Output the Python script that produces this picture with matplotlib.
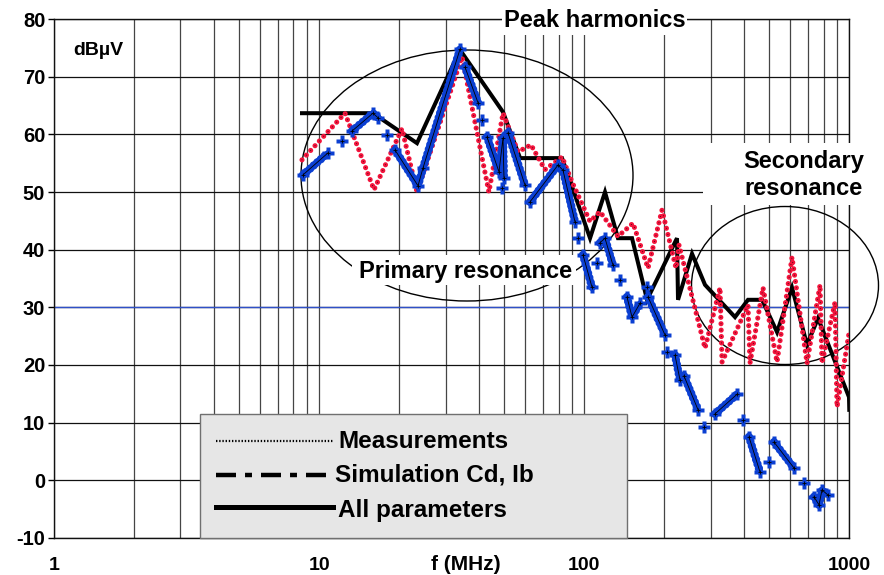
import numpy as np
import matplotlib
matplotlib.use('Agg')
import matplotlib.pyplot as plt
from matplotlib.patches import Ellipse, Rectangle
from matplotlib.lines import Line2D
from matplotlib.ticker import LogLocator, NullFormatter

plt.rcParams['font.family'] = ['Liberation Sans', 'DejaVu Sans']
plt.rcParams['font.weight'] = 'bold'
plt.rcParams['lines.scale_dashes'] = False

# ---------------- data ----------------
x_ticks = [1, 10, 100, 1000]
x_tick_labels = ['1', '10', '100', '1000']
y_ticks = [-10, 0, 10, 20, 30, 40, 50, 60, 70, 80]
y_tick_labels = ['-10', '0', '10', '20', '30', '40', '50', '60', '70', '80']

# Measurements (red dotted)
meas_f = [8.62, 12.52, 16.11, 20.54, 23.4, 34.6, 43.7, 49.4, 56.3, 63.0,
          71.1, 82.5, 89.9, 105.2, 114.7, 134.1, 152.8, 174.1, 196.6, 222.0,
          227.9, 285.6, 325.4, 331.1, 414.8, 422.1, 472.6, 533.8, 608.0, 692.6,
          775.6, 788.9, 883.4, 898.8, 997.5]
meas_db = [55.6, 63.7, 50.4, 61.0, 50.0, 73.5, 50.0, 63.7, 57.0, 58.2,
           53.9, 56.1, 51.8, 44.9, 46.6, 42.3, 44.6, 36.8, 46.9, 36.8,
           40.8, 22.9, 33.4, 20.5, 30.4, 20.3, 33.4, 20.5, 38.7, 20.3,
           33.9, 20.3, 30.9, 12.7, 25.5]

# Simulation Cd, Ib (blue, broken segments separated by None)
sim_f = [8.70, 10.80, None,
         12.20, None,
         13.31, 15.97, 16.68, None,
         18.04, None,
         19.34, 23.61, 24.66, 34.0, None,
         35.51, 39.77, None,
         41.17, None,
         42.99, 47.71, 49.39, 49.83, None,
         48.97, None,
         51.59, 59.80, None,
         62.46, 79.63, 83.18, 92.34, None,
         94.76, None,
         98.97, 106.99, None,
         111.7, None,
         114.7, 119.8, 128.4, None,
         136.5, None,
         145.0, 151.5, 162.4, None,
         172.6, None,
         174.1, 201.7, None,
         205.3, None,
         220.0, 229.8, None,
         237.9, 268.8, None,
         283.1, None,
         311.5, 377.1, None,
         397.2, None,
         418.4, 460.4, None,
         497.9, None,
         520.0, 618.6, None,
         674.8, None,
         735.8, 768.6, 788.9, 831.0]
sim_db = [53.0, 56.8, None,
          58.9, None,
          60.6, 63.7, 62.9, None,
          59.9, None,
          57.3, 51.1, 54.2, 74.8, None,
          71.7, 65.5, None,
          62.5, None,
          59.6, 53.5, 59.4, 52.4, None,
          50.7, None,
          60.3, 51.2, None,
          48.3, 54.7, 53.8, 44.8, None,
          42.0, None,
          39.1, 33.5, None,
          37.7, None,
          41.2, 42.0, 37.3, None,
          34.7, None,
          31.8, 28.3, 30.7, None,
          33.5, None,
          31.8, 25.2, None,
          22.2, None,
          21.7, 17.4, None,
          18.1, 12.2, None,
          9.2, None,
          11.5, 14.9, None,
          10.4, None,
          7.5, 1.4, None,
          3.1, None,
          6.6, 2.1, None,
          -0.5, None,
          -2.9, -4.3, -1.7, -2.6]

# All parameters (black solid)
allp_f = [8.62, 15.97, 23.4, 34.0, 49.4, 57.3, 82.5, 105.2, 119.8, 134.1,
          151.5, 172.6, 223.9, 225.9, 255.1, 285.6, 370.6, 414.8, 468.6, 533.8,
          608.0, 692.6, 762.2, 997.5, 1000]
allp_db = [63.7, 63.7, 58.5, 74.7, 63.9, 55.9, 55.9, 42.0, 50.0, 42.0,
           42.0, 31.3, 42.0, 31.3, 39.3, 33.9, 28.3, 31.3, 31.3, 25.7,
           33.4, 23.5, 28.1, 14.4, 12.2]

legend_labels = ['Measurements', 'Simulation Cd, Ib', 'All parameters']

# ---------------- figure ----------------
W, H = 884, 575
fig = plt.figure(figsize=(W / 100, H / 100), dpi=100)


def fx(px):
    return px / W


def fy(py):
    return 1 - py / H


ax = fig.add_axes([fx(54), fy(537.7), fx(849.3) - fx(54), fy(19.3) - fy(537.7)])
ax.set_xscale('log')
ax.set_xlim(1, 1000)
ax.set_ylim(-10, 80)
ax.set_xticks(x_ticks)
ax.set_xticklabels(x_tick_labels)
ax.xaxis.set_minor_locator(LogLocator(base=10, subs=range(2, 10)))
ax.xaxis.set_minor_formatter(NullFormatter())
ax.set_yticks(y_ticks)
ax.set_yticklabels(y_tick_labels)
ax.tick_params(axis='x', which='both', length=0, pad=14, labelsize=14)
ax.tick_params(axis='y', which='major', length=4.3, width=1, pad=2,
               labelsize=14.5, direction='out')
ax.grid(axis='x', which='both', color='#454545', lw=0.9)
ax.grid(axis='y', which='major', color='#111111', lw=0.9)
ax.axhline(30, color='#2f50c8', lw=1.0, zorder=0.6)
ax.set_axisbelow(True)
for s in ax.spines.values():
    s.set_color('#111111')
    s.set_linewidth(1.0)

# series
ax.plot(allp_f, allp_db, color='black', lw=2.9, solid_joinstyle='miter', zorder=2)

ax.plot(meas_f, meas_db, color='#f2143c', lw=3.7, dashes=(0.01, 4.6),
        dash_capstyle='round', zorder=3)
ax.plot(meas_f, meas_db, color='#3a0008', lw=0.75, dashes=(0.01, 4.6),
        dash_capstyle='round', zorder=3.1)

sf = np.array(sim_f, dtype=float)
sd = np.array(sim_db, dtype=float)
blue = '#0b3fd2'
ax.plot(sf, sd, color=blue, lw=4.2, solid_capstyle='round', zorder=4)
ax.plot(sf, sd, color=blue, lw=6.0, dashes=(0.01, 3.4), dash_capstyle='round', zorder=4)
ax.plot(sf, sd, ls='none', marker='P', ms=8.5, mfc=blue, mec='none', zorder=4)
ax.plot(sf, sd, color='black', lw=0.6, zorder=4.1)
ax.plot(sf, sd, ls='none', marker='+', ms=3.5, mec='black', mew=0.6, zorder=4.1)

# ellipses
ax.add_artist(Ellipse((fx(467), fy(175.5)), 332 / W, 251 / H, transform=fig.transFigure,
                      fill=False, ec='black', lw=1.0, zorder=1.5, clip_on=False))
ax.add_artist(Ellipse((fx(785), fy(285.5)), 187 / W, 158 / H, transform=fig.transFigure,
                      fill=False, ec='black', lw=1.0, zorder=1.5, clip_on=False))

# white label boxes + annotation texts
def white_box(x0, y0, x1, y1):
    fig.add_artist(Rectangle((fx(x0), fy(y1)), (x1 - x0) / W, (y1 - y0) / H,
                             transform=fig.transFigure, fc='white', ec='none', zorder=2))

white_box(502, 2, 687, 35)
white_box(352, 255, 576, 285)
white_box(703, 143, 884, 205)
fig.text(fx(594.5), fy(26.7), 'Peak harmonics', ha='center', va='baseline', fontsize=17, zorder=3)
fig.text(fx(465.5), fy(277.7), 'Primary resonance', ha='center', va='baseline', fontsize=17, zorder=3)
fig.text(fx(804), fy(168.3), 'Secondary', ha='center', va='baseline', fontsize=17, zorder=3)
fig.text(fx(804), fy(195), 'resonance', ha='center', va='baseline', fontsize=17, zorder=3)
fig.text(fx(73), fy(55), 'dBµV', ha='left', va='baseline', fontsize=14, zorder=3)
fig.text(fx(466), fy(570), 'f (MHz)', ha='center', va='baseline', fontsize=15, zorder=3)

# legend box
fig.add_artist(Rectangle((fx(200), fy(538)), 427 / W, (538 - 414.3) / H,
                         transform=fig.transFigure, fc='#e6e6e6', ec='#707070',
                         lw=1.0, zorder=2))
leg_y = [441, 475, 507]
leg_base = [447.7, 481.7, 517]
leg_x = [338, 335, 338]
styles = [dict(color='black', lw=1.6, dashes=(1.0, 1.3)),
          dict(color='black', lw=3.2, dashes=(14.4, 6.5, 5.0, 6.5)),
          dict(color='black', lw=3.6)]
for i, lab in enumerate(legend_labels):
    fig.add_artist(Line2D([fx(216), fx(333)], [fy(leg_y[i])] * 2, transform=fig.transFigure,
                          zorder=3, **styles[i]))
    fig.text(fx(leg_x[i]), fy(leg_base[i]), lab, ha='left', va='baseline',
             fontsize=17.5, zorder=3)

fig.savefig('out.png', dpi=100)
